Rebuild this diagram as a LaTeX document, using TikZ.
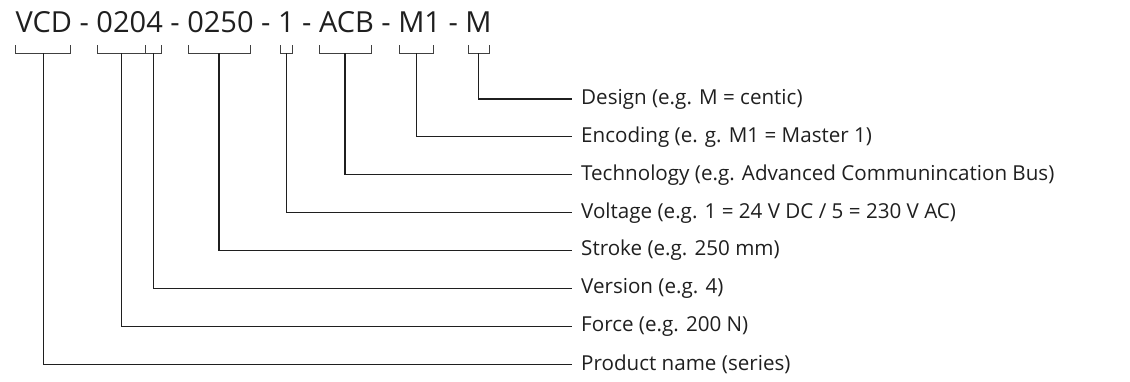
\documentclass[tikz,border=0pt]{standalone}
\usepackage{fontspec}
\setmainfont{Open Sans}
\begin{document}
\begin{tikzpicture}[x=1pt,y=-1pt,
  lbl/.style={anchor=west,inner xsep=9pt,inner ysep=0pt,font=\fontsize{20.6}{21}\selectfont,text=black!88},
  brk/.style={line width=0.8pt,draw=black!75},
  stem/.style={line width=1.2pt,draw=black!88}]
\useasboundingbox (0,0) rectangle (1130,381);
\node[anchor=base west,inner sep=0pt,font=\fontsize{29}{30}\selectfont,text=black!88] (title) at (15.5,32.3) {VCD - 0204 - 0250 - 1 - ACB - M1 - M};
% brackets
\draw[brk] (15.7,45) -- (15.7,53) -- (70,53) -- (70,45);
\draw[brk] (97.7,45) -- (97.7,53) -- (161,53) -- (161,45);
\draw[brk] (145.3,45) -- (145.3,53);
\draw[brk] (188.3,45) -- (188.3,53) -- (250.7,53) -- (250.7,45);
\draw[brk] (280.7,45) -- (280.7,53) -- (292.3,53) -- (292.3,45);
\draw[brk] (319.3,45) -- (319.3,53) -- (371,53) -- (371,45);
\draw[brk] (399.3,45) -- (399.3,53) -- (433.3,53) -- (433.3,45);
\draw[brk] (468.3,45) -- (468.3,53) -- (489,53) -- (489,45);
% stem tops
\coordinate (sVCD) at (43.3,53.4);
\coordinate (sForce) at (121.7,53.4);
\coordinate (sVer) at (153.3,53.4);
\coordinate (sStroke) at (219,53.4);
\coordinate (sVolt) at (286.7,53.4);
\coordinate (sTech) at (345,53.4);
\coordinate (sEnc) at (416.7,53.4);
\coordinate (sDes) at (478.7,53.4);
% labels
\node[lbl] (lDes) at (572,99) {Design (e.g. M = centic)};
\node[lbl] (lEnc) at (572,136.8) {Encoding (e. g. M1 = Master 1)};
\node[lbl] (lTech) at (572,174.8) {Technology (e.g. Advanced Communincation Bus)};
\node[lbl] (lVolt) at (572,212.7) {Voltage (e.g. 1 = 24 V DC / 5 = 230 V AC)};
\node[lbl] (lStroke) at (572,250.6) {Stroke (e.g. 250 mm)};
\node[lbl] (lVer) at (572,288.5) {Version (e.g. 4)};
\node[lbl] (lForce) at (572,326.4) {Force (e.g. 200 N)};
\node[lbl] (lVCD) at (572,364.2) {Product name (series)};
% connectors
\foreach \s/\l in {sDes/lDes,sEnc/lEnc,sTech/lTech,sVolt/lVolt,sStroke/lStroke,sVer/lVer,sForce/lForce,sVCD/lVCD}
  \draw[stem] (\s) |- (\l.west);
\end{tikzpicture}
\end{document}
